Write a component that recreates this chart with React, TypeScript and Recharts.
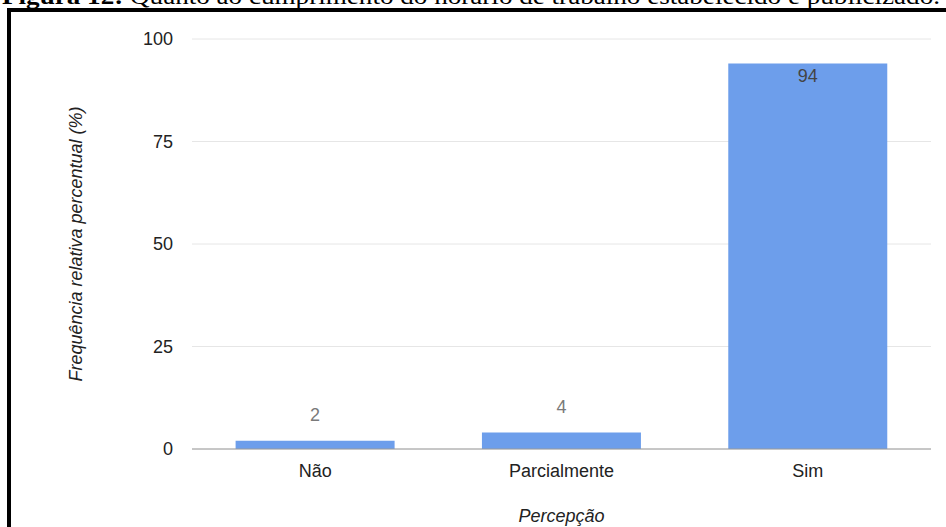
import React from 'react';
import { BarChart, Bar, XAxis, YAxis, CartesianGrid, LabelList, Label } from 'recharts';

const categories = ['Não', 'Parcialmente', 'Sim'];
const values = [2, 4, 94];
const yTicks = [0, 25, 50, 75, 100];
const titleBold = 'Figura 12:';
const titleRest = ' Quanto ao cumprimento do horário de trabalho estabelecido e publicizado.';
const xTitle = 'Percepção';
const yTitle = 'Frequência relativa percentual (%)';

const data = categories.map((c, i) => ({ category: c, value: values[i] }));

const FONT = '"Liberation Sans", Arial, sans-serif';

const renderValueLabel = (props: any) => {
  const { x, y, width, height, value } = props;
  const cx = Number(x) + Number(width) / 2;
  if (Number(height) > 40) {
    return (
      <text x={cx} y={Number(y) + 18} textAnchor="middle" fill="#444444" fontSize={18} fontFamily={FONT}>
        {value}
      </text>
    );
  }
  return (
    <text x={cx} y={Number(y) - 20} textAnchor="middle" fill="#7a7a7a" fontSize={18} fontFamily={FONT}>
      {value}
    </text>
  );
};

const renderYTitle = (props: any) => {
  const vb = props.viewBox || {};
  const tx = Number(vb.x || 0) + 82;
  const ty = Number(vb.y || 0) + Number(vb.height || 0) / 2;
  return (
    <text
      x={tx}
      y={ty}
      transform={`rotate(-90 ${tx} ${ty})`}
      textAnchor="middle"
      fill="#222222"
      fontSize={18}
      fontStyle="italic"
      fontFamily={FONT}
    >
      {yTitle}
    </text>
  );
};

export default function App() {
  return (
    <div
      style={{
        position: 'fixed',
        left: 0,
        top: 0,
        width: 946,
        height: 527,
        overflow: 'hidden',
        background: '#ffffff',
      }}
    >
      <svg width={946} height={14} style={{ position: 'absolute', left: 0, top: 0 }}>
        <text
          x={2}
          y={4}
          fontFamily='"Liberation Serif", "Times New Roman", serif'
          fontSize={24}
          fill="#000"
          textLength={938}
          lengthAdjust="spacingAndGlyphs"
        >
          <tspan fontWeight="bold">{titleBold}</tspan>
          <tspan>{titleRest}</tspan>
        </text>
      </svg>
      <div
        style={{
          position: 'absolute',
          left: 7,
          top: 8,
          width: 1000,
          height: 1000,
          border: '4px solid #000',
          boxSizing: 'border-box',
        }}
      />
      <div style={{ position: 'absolute', left: 0, top: 0 }}>
        <BarChart
          width={946}
          height={527}
          data={data}
          margin={{ top: 39, right: 15, left: 0, bottom: 0 }}
          barCategoryGap="17.7%"
          style={{ fontFamily: FONT }}
        >
          <CartesianGrid vertical={false} stroke="#e6e6e6" strokeWidth={1} />
          <YAxis
            type="number"
            domain={[0, 100]}
            ticks={yTicks}
            width={192}
            tickLine={false}
            axisLine={false}
            tickSize={6}
            tickMargin={13}
            tick={{ fill: '#222222', fontSize: 18 }}
          >
            <Label content={renderYTitle} />
          </YAxis>
          <XAxis
            dataKey="category"
            height={78}
            tickLine={false}
            axisLine={{ stroke: '#9a9a9a' }}
            tickSize={6}
            tickMargin={9}
            tick={{ fill: '#222222', fontSize: 18 }}
          >
            <Label
              value={xTitle}
              position="insideBottom"
              offset={5}
              fill="#222222"
              fontSize={18}
              fontStyle="italic"
            />
          </XAxis>
          <Bar dataKey="value" fill="#6d9eeb" isAnimationActive={false}>
            <LabelList dataKey="value" content={renderValueLabel} />
          </Bar>
        </BarChart>
      </div>
    </div>
  );
}
